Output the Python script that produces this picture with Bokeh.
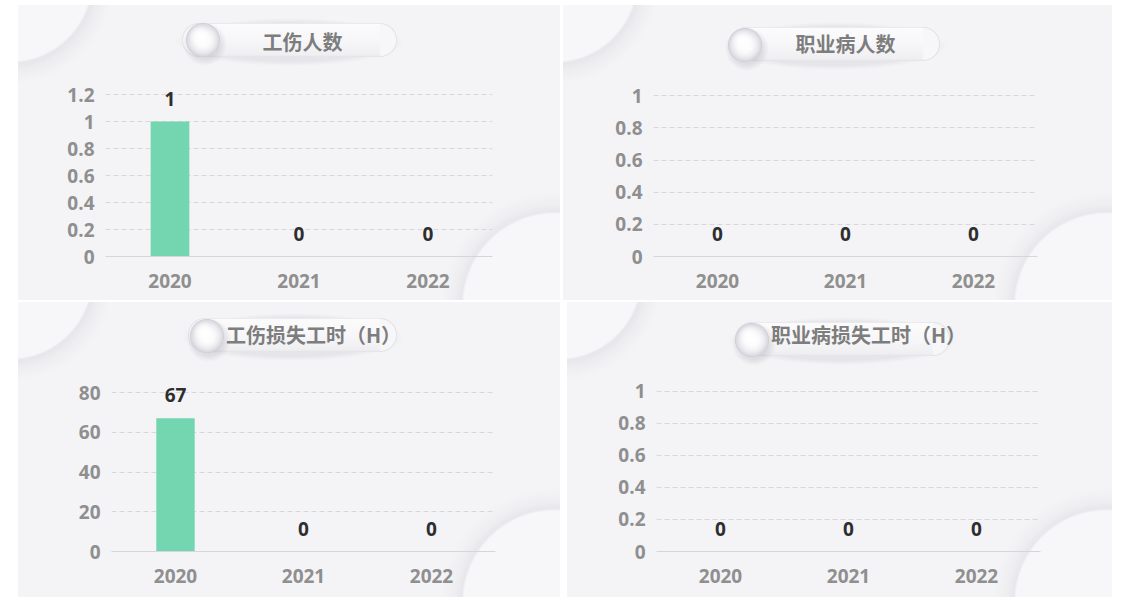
from bokeh.plotting import figure
from bokeh.models import (ColumnDataSource, LabelSet, Label, FixedTicker,
                          Range1d, FactorRange, Spacer)
from bokeh.layouts import row, column
from bokeh.embed import file_html
from bokeh.resources import INLINE
from bokeh.core.properties import value

# ---------------- data ----------------
years = ["2020", "2021", "2022"]
injury_people = [1, 0, 0]
disease_people = [0, 0, 0]
injury_hours = [67, 0, 0]
disease_hours = [0, 0, 0]

title_injury_people = "工伤人数"
title_disease_people = "职业病人数"
title_injury_hours = "工伤损失工时（H）"
title_disease_hours = "职业病损失工时（H）"

ticks_injury_people = [0, 0.2, 0.4, 0.6, 0.8, 1, 1.2]
labels_injury_people = ["0", "0.2", "0.4", "0.6", "0.8", "1", "1.2"]
ticks_unit = [0, 0.2, 0.4, 0.6, 0.8, 1]
labels_unit = ["0", "0.2", "0.4", "0.6", "0.8", "1"]
ticks_injury_hours = [0, 20, 40, 60, 80]
labels_injury_hours = ["0", "20", "40", "60", "80"]

# ---------------- style ----------------
BG = "#f4f4f6"
BAR = "#74d6b0"
TICK_COLOR = "#8f8f8f"
VALUE_COLOR = "#2e2e2e"
TITLE_COLOR = "#7d7d7d"
NUM_FONT = "Open Sans"
CJK_FONT = "Noto Sans CJK SC"
FS = "19px"


def panel_css(W, H, pill, sphere):
    x0, x1, y0, y1 = pill
    h = y1 - y0
    r = h / 2
    cy = (y0 + y1) / 2
    sx, sy = sphere
    fill, border = "#f7f7f9", "#e2e2e7"
    layers = []
    # sphere highlight, ball, shadow
    layers.append((f"radial-gradient(circle 10px at {sx-4}px {sy-5}px, rgba(255,255,255,0.95) 0px, rgba(255,255,255,0) 10px)", None))
    layers.append((f"radial-gradient(circle 17px at {sx}px {sy}px, #ffffff 0px, #fbfbfc 7px, #ededf1 12px, #d8d8de 16px, #d0d0d7 16.6px, rgba(210,210,216,0) 17.4px)", None))
    layers.append((f"radial-gradient(circle 22px at {sx+2}px {sy+4}px, rgba(140,140,155,0.38) 0px, rgba(140,140,155,0.22) 15px, rgba(140,140,155,0) 22px)", None))
    # pill middle
    layers.append((f"linear-gradient(to bottom, {border} 0px, #fbfbfc 1.5px, {fill} {h/2}px, #efeff2 {h-2}px, {border} {h}px)",
                   (f"{x0+r}px {y0}px", f"{x1-x0-2*r}px {h}px")))
    # pill caps
    for cx in (x0 + r, x1 - r):
        layers.append((f"radial-gradient(circle {r}px at {cx}px {cy}px, {fill} 0px, {fill} {r-1.5}px, {border} {r-0.5}px, rgba(225,225,230,0) {r+0.5}px)", None))
    # soft pill shadow
    layers.append((f"radial-gradient(ellipse {(x1-x0)/2+7}px {r+7}px at {(x0+x1)/2}px {cy+2}px, rgba(195,195,205,0.3) 80%, rgba(195,195,205,0) 100%)", None))
    # decorative circles
    layers.append(("radial-gradient(circle at -8px -25px, #f7f7f9 0px, #f7f7f9 81px, #e6e6eb 83.5px, #ededf0 90px, rgba(244,244,246,0) 104px)", None))
    layers.append((f"radial-gradient(circle at {W-5}px {H+5}px, #f7f7f9 0px, #f7f7f9 91px, #e7e7ec 93.5px, #eeeef1 100px, rgba(244,244,246,0) 114px)", None))
    imgs, poss, sizes = [], [], []
    for img, ps in layers:
        imgs.append(img)
        if ps is None:
            poss.append("0px 0px")
            sizes.append("100% 100%")
        else:
            poss.append(ps[0])
            sizes.append(ps[1])
    return {
        "background-color": BG,
        "background-image": ", ".join(imgs),
        "background-position": ", ".join(poss),
        "background-size": ", ".join(sizes),
        "background-repeat": ", ".join(["no-repeat"] * len(imgs)),
    }


def make_panel(title, vals, ticks, tick_labels, W, H, left, right, bottom, top_tick_y,
               pill, text_pos, sphere):
    # frame spans from the top of the panel down to the x axis;
    # the top tick lands at panel-relative pixel row top_tick_y
    frame_bottom = H - bottom
    ymax = ticks[-1]
    y_end = ymax * frame_bottom / (frame_bottom - top_tick_y)
    src = ColumnDataSource(dict(x=years, y=vals, txt=[str(v) for v in vals]))
    p = figure(width=W, height=H, x_range=FactorRange(*years), y_range=Range1d(0, y_end),
               output_backend="svg", toolbar_location=None,
               min_border_left=left, min_border_right=right, min_border_top=0,
               min_border_bottom=bottom,
               border_fill_color=None, background_fill_color=None, outline_line_color=None)
    p.styles = panel_css(W, H, pill, sphere)

    p.vbar(x="x", top="y", width=0.3, source=src, fill_color=BAR, line_color=None)

    p.add_layout(LabelSet(x="x", y="y", text="txt", source=src, y_offset=23,
                          text_align="center", text_baseline="middle",
                          text_font=value(NUM_FONT), text_font_style="bold",
                          text_font_size=FS, text_color=VALUE_COLOR))

    p.xgrid.grid_line_color = None
    p.ygrid.grid_line_color = "#d8d8dc"
    p.ygrid.grid_line_dash = "5 3"
    p.ygrid.grid_line_width = 1

    p.yaxis.ticker = FixedTicker(ticks=ticks)
    p.yaxis.major_label_overrides = dict(zip(ticks, tick_labels))
    p.yaxis.axis_line_color = None
    p.yaxis.major_tick_line_color = None
    p.yaxis.minor_tick_line_color = None
    p.yaxis.major_label_standoff = 5
    p.yaxis.major_label_text_color = TICK_COLOR
    p.yaxis.major_label_text_font = NUM_FONT
    p.yaxis.major_label_text_font_style = "bold"
    p.yaxis.major_label_text_font_size = FS

    p.xaxis.axis_line_color = "#d6d6da"
    p.xaxis.major_tick_line_color = None
    p.xaxis.minor_tick_line_color = None
    p.xaxis.major_label_standoff = 11
    p.xaxis.major_label_text_color = TICK_COLOR
    p.xaxis.major_label_text_font = NUM_FONT
    p.xaxis.major_label_text_font_style = "bold"
    p.xaxis.major_label_text_font_size = FS

    tx, ty = text_pos
    p.add_layout(Label(x=tx - left, y=frame_bottom - ty, x_units="screen", y_units="screen",
                       text=title, text_align="center", text_baseline="middle",
                       text_font=CJK_FONT, text_font_style="bold",
                       text_font_size="20px", text_color=TITLE_COLOR))
    return p


p1 = make_panel(title_injury_people, injury_people, ticks_injury_people, labels_injury_people,
                542, 295, 87, 68, 44, 89, (164, 379, 18, 52), (284, 36), (185, 35))
p2 = make_panel(title_disease_people, disease_people, ticks_unit, labels_unit,
                549, 295, 90, 75, 42, 91, (167, 377, 22, 56), (282, 40), (182, 40))
p3 = make_panel(title_injury_hours, injury_hours, ticks_injury_hours, labels_injury_hours,
                542, 295, 93, 65, 46, 90, (170, 379, 16, 50), (295, 32), (189, 34))
p4 = make_panel(title_disease_hours, disease_hours, ticks_unit, labels_unit,
                545, 295, 89, 72, 42, 90, (168, 383, 20, 54), (301, 36), (185, 38))

layout = column(
    Spacer(width=10, height=5),
    row(Spacer(width=18, height=295), p1, Spacer(width=3, height=295), p2),
    Spacer(width=10, height=2),
    row(Spacer(width=18, height=295), p3, Spacer(width=7, height=295), p4),
)

open("out.html", "w").write(file_html(layout, INLINE))
